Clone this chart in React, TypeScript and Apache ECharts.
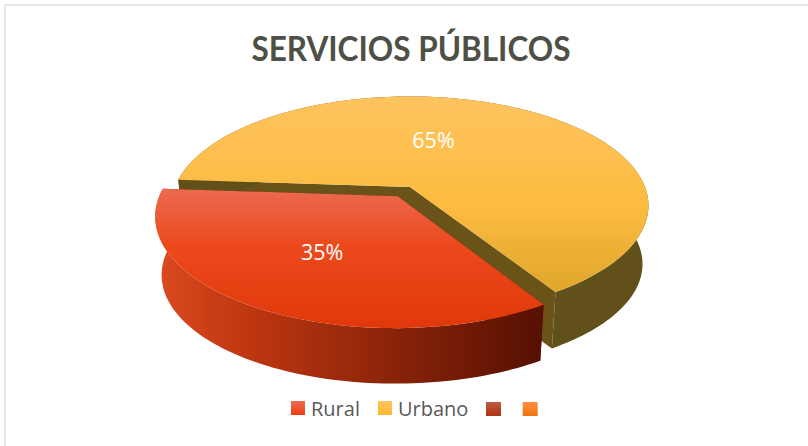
import React, { useEffect, useRef } from "react";
import * as echarts from "echarts";

const TITLE = "SERVICIOS PÚBLICOS";
const categories = ["Rural", "Urbano"];
const values = [35, 65];
const blankLegend = [" ", "\u00a0"];

// disc projection
const CX = 410, CY = 187, A = 235, B = 106, K = 0.17;
const DEPTH = 59, BOTTOM_SCALE = 0.975;
const START_ANGLE = 148;
const EXPLODE = [0.1, 0];
const LABEL_AT = [{ da: 0.5, r: 0.55 }, { da: -18.5, r: 0.5 }];

const total = values.reduce((a, b) => a + b, 0);
const rad = (d: number) => (d * Math.PI) / 180;

function project(u: number, v: number, bottom: boolean): number[] {
  const w = 1 + K * v;
  const s = bottom ? BOTTOM_SCALE : 1;
  return [CX + (A * s * u) / w, CY - (B * s * v) / w + (bottom ? DEPTH : 0)];
}

function sliceRange(i: number) {
  const before = values.slice(0, i).reduce((a, b) => a + b, 0);
  const a0 = START_ANGLE + (360 * before) / total;
  return [a0, a0 + (360 * values[i]) / total];
}

function arcPts(a0: number, a1: number, du: number, dv: number, bottom: boolean) {
  const pts: number[][] = [];
  const n = Math.max(2, Math.ceil(Math.abs(a1 - a0) / 1.5));
  for (let k = 0; k <= n; k++) {
    const t = rad(a0 + ((a1 - a0) * k) / n);
    pts.push(project(du + Math.sin(t), dv + Math.cos(t), bottom));
  }
  return pts;
}

const grad = (x2: number, y2: number, stops: [number, string][]) =>
  new echarts.graphic.LinearGradient(0, 0, x2, y2, stops.map(([offset, color]) => ({ offset, color })));

const RED_TOP = () => grad(0, 1, [[0, "#EC6A50"], [0.4, "#EC4A1D"], [1, "#E0380A"]]);
const RED_WALL = () => grad(1, 0, [[0, "#DC4A20"], [0.25, "#BD3610"], [0.6, "#8C240A"], [1, "#561002"]]);
const YEL_TOP = () => grad(0, 1, [[0, "#FFC35F"], [0.55, "#FCBC40"], [1, "#DFA62C"]]);
const YEL_WALL = "#62501A";
const YEL_CUT = "#6A5318";

function renderSlice(i: number) {
  return (_p: any, api: any) => {
    if (!api.value(0)) return { type: "group", children: [] };
    const [a0, a1] = sliceRange(i);
    const mid = rad((a0 + a1) / 2);
    const d = EXPLODE[i];
    const du = d * Math.sin(mid), dv = d * Math.cos(mid);
    const topArc = arcPts(a0, a1, du, dv, false);
    const botArc = arcPts(a0, a1, du, dv, true);
    const apexT = project(du, dv, false), apexB = project(du, dv, true);
    const isRed = i === 0;
    const children: any[] = [];
    const wallFill = isRed ? RED_WALL() : YEL_WALL;
    const cutFill = isRed ? "#7a1c06" : YEL_CUT;
    [0, topArc.length - 1].forEach((e) => {
      children.push({
        type: "polygon",
        shape: { points: [apexT, topArc[e], botArc[e], apexB] },
        style: { fill: cutFill },
        silent: true,
      });
    });
    children.push({
      type: "polygon",
      shape: { points: [...topArc, ...botArc.slice().reverse()] },
      style: { fill: wallFill },
      silent: true,
    });
    children.push({
      type: "polygon",
      shape: { points: [apexT, ...topArc] },
      style: { fill: isRed ? RED_TOP() : YEL_TOP() },
      silent: true,
    });
    const la = mid + rad(LABEL_AT[i].da), lr = LABEL_AT[i].r;
    const lp = project(du + lr * Math.sin(la), dv + lr * Math.cos(la), false);
    children.push({
      type: "text",
      x: lp[0],
      y: lp[1],
      style: {
        text: `${api.value(0)}%`,
        fill: "#FFFFFF",
        font: '21.5px "Open Sans"',
        align: "center",
        verticalAlign: "middle",
      },
      silent: true,
    });
    return { type: "group", children };
  };
}

export default function App() {
  const ref = useRef<HTMLDivElement>(null);
  useEffect(() => {
    const chart = echarts.init(ref.current!, undefined, { renderer: "svg" });
    const legendIcon = (stops: [number, string][]) => ({ color: grad(0, 1, stops) });
    chart.setOption({
      animation: false,
      backgroundColor: "#FFFFFF",
      graphic: [
        {
          type: "rect",
          shape: { x: 5, y: 5, width: 830, height: 470 },
          style: { fill: "none", stroke: "#E6E6E6", lineWidth: 2 },
          silent: true,
        },
        {
          type: "text",
          x: 411,
          y: 47,
          scaleX: 0.9,
          style: {
            text: TITLE,
            font: 'bold 35px "Lato"',
            fill: "#4F5045",
            align: "center",
            verticalAlign: "middle",
          },
          silent: true,
        },
      ],
      legend: [
        {
          left: 291,
          top: 398,
          itemWidth: 14,
          itemHeight: 14,
          itemGap: 18,
          padding: 0,
          selectedMode: false,
          icon: "rect",
          textStyle: { fontFamily: "Open Sans", fontSize: 20, color: "#595959", padding: [0, 0, 0, 1] },
          data: [
            { name: categories[0], itemStyle: legendIcon([[0, "#EC6A50"], [1, "#EB4010"]]) },
            { name: categories[1], itemStyle: legendIcon([[0, "#FFC35F"], [1, "#FBB92F"]]) },
          ],
        },
        {
          left: 486,
          top: 400,
          itemWidth: 15,
          itemHeight: 14,
          itemGap: 12,
          padding: 0,
          selectedMode: false,
          icon: "rect",
          textStyle: { fontFamily: "Open Sans", fontSize: 18, color: "#595959" },
          data: [
            { name: blankLegend[0], itemStyle: legendIcon([[0, "#BC5A42"], [1, "#AE3413"]]) },
            { name: blankLegend[1], itemStyle: legendIcon([[0, "#FF8C42"], [1, "#F07410"]]) },
          ],
        },
      ],
      series: [
        { type: "custom", name: categories[0], coordinateSystem: "none", z: 3, renderItem: renderSlice(0), data: [values[0]] },
        { type: "custom", name: categories[1], coordinateSystem: "none", z: 2, renderItem: renderSlice(1), data: [values[1]] },
        { type: "custom", name: blankLegend[0], coordinateSystem: "none", z: 1, renderItem: () => ({ type: "group", children: [] }), data: [0] },
        { type: "custom", name: blankLegend[1], coordinateSystem: "none", z: 1, renderItem: () => ({ type: "group", children: [] }), data: [0] },
      ],
    });
    return () => chart.dispose();
  }, []);
  return <div ref={ref} style={{ position: "absolute", left: 0, top: 0, width: 808, height: 446 }} />;
}
